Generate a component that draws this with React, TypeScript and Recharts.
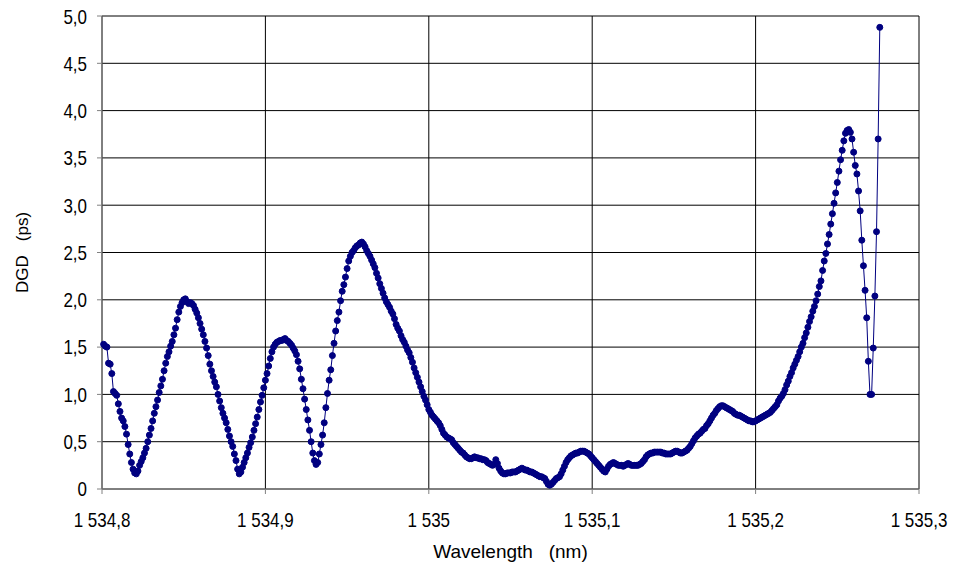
import { CartesianGrid, Label, Line, LineChart, XAxis, YAxis } from "recharts";

// sampling grid of the scan (nm)
const WL_START = 1534.8;
const WL_STEP = 0.001;

// DGD readings (ps), one per sample, left to right
const dgdFirstLobes = [
  1.53, 1.51, 1.5, 1.33, 1.32, 1.22, 1.03, 1.01, 0.99, 0.9,
  0.82, 0.75, 0.72, 0.66, 0.58, 0.47, 0.37, 0.28, 0.21, 0.17,
  0.16, 0.19, 0.25, 0.29, 0.33, 0.38, 0.43, 0.5, 0.57, 0.64,
  0.72, 0.8, 0.87, 0.94, 1.02, 1.09, 1.16, 1.25, 1.33, 1.4,
  1.45, 1.51, 1.56, 1.63, 1.7, 1.79, 1.87, 1.93, 1.97, 2.0,
  2.01, 1.98, 1.96, 1.97, 1.96, 1.94, 1.9, 1.86, 1.81, 1.75,
  1.69, 1.63, 1.56, 1.49, 1.41, 1.32, 1.25, 1.19, 1.13, 1.08,
  1.0, 0.93, 0.86, 0.8, 0.75, 0.7, 0.63, 0.56, 0.5, 0.45,
  0.37, 0.3, 0.21, 0.16, 0.18, 0.23, 0.28, 0.33, 0.38, 0.44,
  0.49, 0.55, 0.62, 0.69, 0.76, 0.84, 0.92, 0.99, 1.07, 1.15,
  1.22, 1.3, 1.38, 1.45, 1.5, 1.53, 1.55, 1.56, 1.57, 1.57,
  1.58, 1.59, 1.57, 1.56, 1.54, 1.52, 1.49, 1.46, 1.42, 1.35,
  1.27, 1.16, 1.06, 0.95, 0.84, 0.73, 0.62, 0.5, 0.38, 0.3,
];

const dgdBigLobe = [
  0.26, 0.28, 0.37, 0.47, 0.57, 0.7, 0.86, 1.01, 1.15, 1.26,
  1.41, 1.54, 1.67, 1.78, 1.87, 1.99, 2.09, 2.16, 2.24, 2.33,
  2.41, 2.46, 2.5, 2.52, 2.55, 2.57, 2.58, 2.6, 2.61, 2.59,
  2.56, 2.52, 2.49, 2.46, 2.42, 2.38, 2.34, 2.28, 2.23, 2.17,
  2.12, 2.07, 2.02, 1.98, 1.95, 1.92, 1.88, 1.85, 1.8, 1.74,
  1.7, 1.67, 1.62, 1.58, 1.55, 1.51, 1.47, 1.44, 1.39, 1.34,
  1.28, 1.23, 1.18, 1.13, 1.08, 1.03, 0.98, 0.94, 0.89, 0.84,
  0.81, 0.78, 0.76, 0.74, 0.72, 0.7, 0.67, 0.63, 0.59, 0.57,
  0.55, 0.54, 0.53, 0.52, 0.49, 0.47, 0.45, 0.43, 0.41, 0.39,
];

const dgdFlat = [
  0.38, 0.36, 0.34, 0.33, 0.32, 0.32, 0.33, 0.34, 0.33, 0.33,
  0.32, 0.32, 0.31, 0.31, 0.3, 0.28, 0.27, 0.26, 0.25, 0.26,
  0.31, 0.27, 0.22, 0.19, 0.17, 0.16, 0.16, 0.17, 0.17, 0.17,
  0.18, 0.18, 0.18, 0.19, 0.2, 0.21, 0.22, 0.21, 0.2, 0.2,
  0.19, 0.18, 0.18, 0.17, 0.16, 0.15, 0.14, 0.13, 0.13, 0.12,
  0.11, 0.08, 0.05, 0.04, 0.05, 0.07, 0.09, 0.11, 0.12, 0.13,
  0.16, 0.2, 0.24, 0.28, 0.31, 0.33, 0.35, 0.36, 0.37, 0.38,
  0.38, 0.39, 0.4, 0.4, 0.4, 0.39, 0.38, 0.37, 0.35, 0.33,
  0.31, 0.29, 0.27, 0.25, 0.23, 0.21, 0.19, 0.18, 0.21, 0.24,
  0.26, 0.27, 0.28, 0.27, 0.26, 0.25, 0.25, 0.25, 0.24, 0.25,
  0.26, 0.27, 0.26, 0.25, 0.25, 0.25, 0.25, 0.25, 0.26, 0.27,
  0.29, 0.31, 0.34, 0.36, 0.37, 0.38, 0.38, 0.39, 0.39, 0.39,
  0.39, 0.39, 0.38, 0.38, 0.37, 0.37, 0.37, 0.37, 0.38, 0.39,
  0.4, 0.4, 0.39, 0.38, 0.38, 0.39, 0.4, 0.41, 0.43, 0.45,
];

const dgdRise = [
  0.48, 0.51, 0.54, 0.56, 0.58, 0.59, 0.61, 0.63, 0.64, 0.67,
  0.69, 0.72, 0.75, 0.78, 0.8, 0.83, 0.85, 0.87, 0.88, 0.88,
  0.87, 0.86, 0.85, 0.84, 0.83, 0.82, 0.8, 0.79, 0.78, 0.78,
  0.77, 0.76, 0.75, 0.74, 0.73, 0.72, 0.72, 0.71, 0.71, 0.72,
  0.73, 0.74, 0.75, 0.76, 0.77, 0.78, 0.79, 0.8, 0.81, 0.83,
  0.85, 0.87, 0.89, 0.93, 0.96, 0.98, 1.01, 1.05, 1.1, 1.14,
  1.19, 1.23, 1.28, 1.32, 1.36, 1.4, 1.45, 1.5, 1.54, 1.6,
  1.65, 1.71, 1.77, 1.82, 1.88, 1.93, 1.99, 2.06, 2.14, 2.2,
  2.31, 2.41, 2.49, 2.59, 2.69, 2.8, 2.91, 3.02, 3.13, 3.24,
  3.36, 3.48, 3.58, 3.68, 3.76, 3.79, 3.8, 3.77, 3.7, 3.56,
  3.42, 3.33, 3.15, 2.94, 2.63, 2.36, 2.1, 1.81, 1.35, 1.0,
  1.0, 1.49, 2.04, 2.72, 3.7, 4.88,
];

const dgd = [...dgdFirstLobes, ...dgdBigLobe, ...dgdFlat, ...dgdRise];

const xTicks = [1534.8, 1534.9, 1535, 1535.1, 1535.2, 1535.3];
const yTicks = [0, 0.5, 1, 1.5, 2, 2.5, 3, 3.5, 4, 4.5, 5];

const data = dgd.map((v, i) => ({
  wl: Number((WL_START + (i + 1) * WL_STEP).toFixed(3)),
  dgd: v,
}));

const FONT = "'Liberation Sans', Arial, sans-serif";
const NAVY = "#000080";
const TICK_SIZE = 17;
const STRETCH = 1.2; // the original text is drawn tall and narrow

function fmtX(v: number) {
  let s = v.toFixed(1);
  if (s.endsWith(".0")) s = s.slice(0, -2);
  const [int, dec] = s.split(".");
  const grouped = int.replace(/\B(?=(\d{3})+(?!\d))/g, " ");
  return dec ? `${grouped},${dec}` : grouped;
}

function fmtY(v: number) {
  return v === 0 ? "0" : v.toFixed(1).replace(".", ",");
}

function XTick(props: any) {
  const { x, y, payload } = props;
  return (
    <text
      transform={`translate(${x},${y}) scale(1,${STRETCH})`}
      textAnchor="middle"
      dy="0.71em"
      fill="#000"
      fontSize={TICK_SIZE}
      fontFamily={FONT}
    >
      {fmtX(payload.value)}
    </text>
  );
}

function YTick(props: any) {
  const { x, y, payload } = props;
  return (
    <text
      transform={`translate(${x},${y}) scale(1,${STRETCH})`}
      textAnchor="end"
      dy="0.36em"
      fill="#000"
      fontSize={TICK_SIZE}
      fontFamily={FONT}
    >
      {fmtY(payload.value)}
    </text>
  );
}

export default function App() {
  return (
    <div style={{ width: 957, height: 559, fontFamily: FONT }}>
      {/* the top tick label sits right at the svg edge, let it spill over */}
      <style>{"svg.recharts-surface{overflow:visible}"}</style>
      <LineChart width={957} height={559} data={data} margin={{ top: 8, right: 46, left: 0, bottom: 0 }}>
        <CartesianGrid stroke="#000" strokeWidth={1} />
        <XAxis
          type="number"
          dataKey="wl"
          domain={[1534.8, 1535.3]}
          ticks={xTicks}
          height={78}
          stroke="#808080"
          tickSize={5}
          tickMargin={19}
          tick={<XTick />}
        >
          <Label
            value={"Wavelength\u00a0\u00a0\u00a0(nm)"}
            position="insideBottom"
            offset={9}
            style={{ fill: "#000", fontSize: 19, fontFamily: FONT }}
          />
        </XAxis>
        <YAxis
          type="number"
          domain={[0, 5]}
          ticks={yTicks}
          width={94}
          stroke="#808080"
          tickSize={5}
          tickMargin={10}
          tick={<YTick />}
        >
          <Label
            value={"DGD\u00a0\u00a0\u00a0(ps)"}
            angle={-90}
            position="insideLeft"
            offset={14}
            style={{ fill: "#000", fontSize: 17, fontFamily: FONT, textAnchor: "middle" }}
          />
        </YAxis>
        <Line
          type="linear"
          dataKey="dgd"
          stroke={NAVY}
          strokeWidth={1}
          dot={{ r: 3, fill: NAVY, stroke: NAVY, strokeWidth: 1 }}
          isAnimationActive={false}
        />
      </LineChart>
    </div>
  );
}
